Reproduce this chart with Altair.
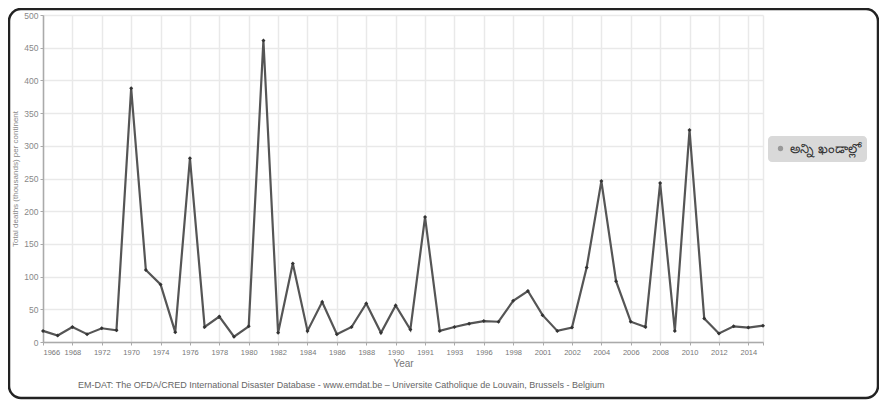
import altair as alt
import pandas as pd

tick_labels = ["1966", "1968", "1972", "1970", "1974", "1976", "1978", "1980", "1982",
               "1984", "1986", "1988", "1990", "1991", "1993", "1996", "1998", "2001",
               "2002", "2004", "2006", "2008", "2010", "2012", "2014"]

deaths = [17, 10, 23, 12, 21, 18, 388, 110, 88, 15,
          281, 23, 39, 8, 24, 461, 14, 120, 17, 61,
          12, 23, 59, 14, 56, 19, 191, 17, 23, 28,
          32, 31, 63, 78, 41, 17, 22, 114, 246, 93,
          31, 23, 243, 17, 324, 36, 13, 24, 22, 25]

series_name = "అన్ని ఖండాల్లో"
y_title = "Total deaths (thousands) per continent"
x_title = "Year"
footer = "EM-DAT: The OFDA/CRED International Disaster Database - www.emdat.be – Universite Catholique de Louvain, Brussels - Belgium"

df = pd.DataFrame({"idx": list(range(len(deaths))), "deaths": deaths, "series": series_name})

arr = "[" + ",".join("'" + t + "'" for t in tick_labels) + "]"
label_expr = f"datum.value % 2 == 0 ? {arr}[datum.value / 2] : ''"
n = len(deaths)
tick_vals = list(range(0, n, 2)) + [n - 1]

x_enc = alt.X("idx:Q",
              scale=alt.Scale(domain=[0, n - 1], nice=False, zero=False),
              axis=alt.Axis(values=tick_vals, labelExpr=label_expr, title=x_title,
                            labelFontSize=7.5, labelColor="#777777", titleFontSize=10,
                            titleColor="#777777", titleFontWeight="normal", titlePadding=3,
                            domainColor="#aaaaaa", domainWidth=1.5, tickColor="#aaaaaa",
                            tickSize=3, gridColor="#e9e9e9", gridWidth=1.5, labelPadding=3))
y_enc = alt.Y("deaths:Q",
              scale=alt.Scale(domain=[0, 500], nice=False),
              axis=alt.Axis(values=list(range(0, 501, 50)), title=y_title,
                            labelFontSize=8.5, labelColor="#888888", titleFontSize=8,
                            titleColor="#888888", titleFontWeight="normal",
                            domainColor="#aaaaaa", domainWidth=1.5, tickColor="#aaaaaa",
                            tickSize=3, gridColor="#e9e9e9", gridWidth=1.5, labelPadding=2))

line = alt.Chart(df).mark_line(
    color="#555555", strokeWidth=2.2,
    point=alt.OverlayMarkDef(filled=True, size=16, color="#333333", shape="diamond")
).encode(x=x_enc, y=y_enc)

legend_layer = alt.Chart(df).mark_circle(size=0).encode(
    x=x_enc, y=y_enc,
    color=alt.Color("series:N",
                    scale=alt.Scale(domain=[series_name], range=["#999999"]),
                    legend=alt.Legend(title=None, orient="none", legendX=725, legendY=121,
                                      fillColor="#d9d9d9", cornerRadius=4, padding=6,
                                      symbolType="circle", symbolSize=28,
                                      symbolOpacity=1, symbolFillColor="#999999",
                                      symbolStrokeWidth=0, labelOffset=3,
                                      labelFontSize=13, labelColor="#333333",
                                      labelFontWeight="normal", labelLimit=200))
)

footer_layer = alt.Chart(pd.DataFrame({"t": [footer]})).mark_text(
    align="left", baseline="middle", fontSize=9, color="#666666"
).encode(text="t:N", x=alt.value(35), y=alt.value(370))

frame = alt.Chart(pd.DataFrame({"a": [0]})).mark_rect(
    filled=False, stroke="#222222", strokeWidth=2.5, cornerRadius=12
).encode(
    x=alt.value(-34), x2=alt.value(835), y=alt.value(-6), y2=alt.value(383)
)

chart = alt.layer(line, legend_layer, footer_layer, frame).properties(
    width=720, height=327,
    autosize=alt.AutoSizeParams(type="none"),
    padding={"left": 35, "top": 7, "right": 116, "bottom": 58}
).configure_view(stroke=None)

chart.save("out.html", embed_options={"renderer": "svg", "actions": False})
